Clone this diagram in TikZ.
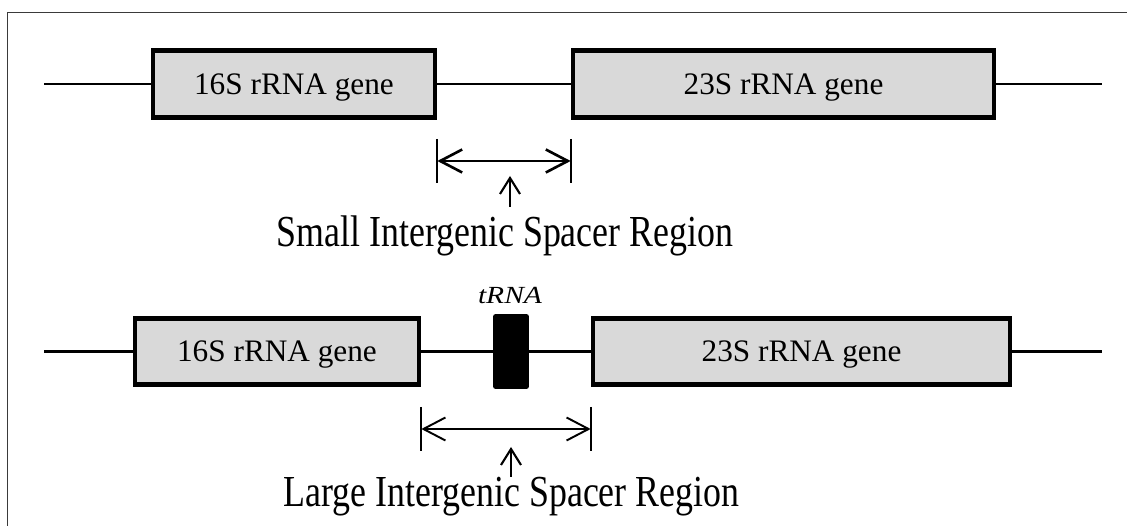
\documentclass[tikz,border=0pt]{standalone}
\usepackage{fontspec}
\setmainfont{Liberation Serif}
\newfontfamily\regionfont[FakeStretch=0.81]{Liberation Serif}
\newfontfamily\trnafont[FakeStretch=1.2]{Liberation Serif}
\usepackage{xcolor}
\usetikzlibrary{arrows.meta, positioning}

\definecolor{genegray}{HTML}{D9D9D9}
\definecolor{framegray}{HTML}{3A3A3A}

\tikzset{
	gene/.style={draw, line width=2.7pt, fill=genegray, inner sep=0pt,
		minimum height=1.33cm, text depth=0pt,
		font=\fontsize{17.8pt}{20pt}\selectfont},
	trnabox/.style={fill=black, draw=none, rounded corners=1.5pt,
		minimum width=0.72cm, minimum height=1.5cm, inner sep=0pt},
	backbone/.style={line width=1.6pt},
	span/.style={{Straight Barb[length=0.44cm, width=0.46cm]}-{Straight Barb[length=0.44cm, width=0.46cm]}},
	pointer/.style={-{Straight Barb[length=0.32cm, width=0.4cm]}, line width=1.2pt},
	regionlabel/.style={anchor=base, inner sep=0pt,
		font=\fontsize{25.2pt}{28pt}\regionfont},
}

\begin{document}
\begin{tikzpicture}[x=0.02cm, y=-0.02cm]
		%picture area and frame
		\useasboundingbox (0,0) rectangle (1127,526);
		\draw [framegray, line width=0.7pt] (7.5,526) |- (1127,12.7);
		
		%definition of rows
		\def\yA{84};
		\def\yB{351.5};
		
		%upper operon: small spacer
		\node [gene, minimum width=5.64cm] (s16a) at (294,\yA) {16S rRNA gene};
		\node [gene, minimum width=8.42cm] (s23a) at (783.5,\yA) {23S rRNA gene};
		
		\coordinate (la) at (44,\yA);
		\coordinate (ra) at (1102,\yA);
		\draw [backbone] (la) -- (s16a);
		\draw [backbone] (s16a) -- (s23a);
		\draw [backbone] (s23a) -- (ra);
		
		\path (s16a.east) ++(0,77) coordinate (spa1);
		\path (s23a.west) ++(0,77) coordinate (spa2);
		\draw [line width=1.2pt] (spa1) ++(0,-22) -- ++(0,44);
		\draw [line width=1.2pt] (spa2) ++(0,-22) -- ++(0,44);
		\draw [span, line width=1.5pt] (spa1) -- (spa2);
		
		\node [regionlabel] (small) at (505,246.7) {Small Intergenic Spacer Region};
		\coordinate (pa) at (510,207);
		\draw [pointer] (pa) -- ++(0,-31);
		
		%lower operon: large spacer with tRNA
		\node [gene, minimum width=5.68cm] (s16b) at (277,\yB) {16S rRNA gene};
		\node [gene, minimum width=8.34cm] (s23b) at (801.5,\yB) {23S rRNA gene};
		\node [trnabox] (trna) at (511,\yB) {};
		\node [anchor=base, inner sep=0pt, font=\fontsize{14pt}{16pt}\trnafont\itshape] (trnalabel) at (510,304) {tRNA};
		
		\coordinate (lb) at (44,\yB);
		\coordinate (rb) at (1102,\yB);
		\draw [line width=1.2pt] (lb) -- (s16b);
		\draw [line width=1.2pt] (s16b) -- (trna) -- (s23b);
		\draw [line width=1.2pt] (s23b) -- (rb);
		
		\path (s16b.east) ++(0,77.5) coordinate (spb1);
		\path (s23b.west) ++(0,77.5) coordinate (spb2);
		\draw [line width=1.2pt] (spb1) ++(0,-22) -- ++(0,44);
		\draw [line width=1.2pt] (spb2) ++(0,-22) -- ++(0,44);
		\draw [span, line width=1.1pt] (spb1) -- (spb2);
		
		\node [regionlabel] (large) at (511.5,507) {Large Intergenic Spacer Region};
		\coordinate (pb) at (511,477);
		\draw [pointer] (pb) -- ++(0,-30);
		
	\end{tikzpicture}
\end{document}
